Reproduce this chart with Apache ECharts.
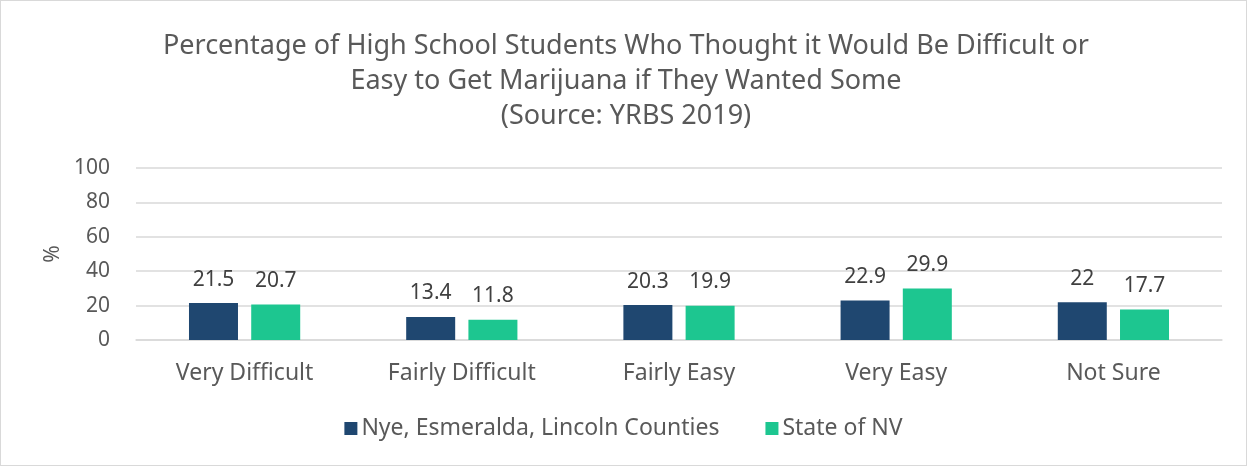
<!DOCTYPE html>
<html><head><meta charset="utf-8">
<script src="https://cdn.jsdelivr.net/npm/echarts@6/dist/echarts.min.js"></script>
<style>html,body{margin:0;padding:0;background:#fff}#c{width:1247px;height:466px;box-sizing:border-box;border:1.5px solid #d9d9d9}</style>
</head><body><div id="c"></div>
<script>
const categories = ["Very Difficult", "Fairly Difficult", "Fairly Easy", "Very Easy", "Not Sure"];
const nyeValues = [21.5, 13.4, 20.3, 22.9, 22];
const nvValues = [20.7, 11.8, 19.9, 29.9, 17.7];
const seriesNames = ["Nye, Esmeralda, Lincoln Counties", "State of NV"];
const titleText = "Percentage of High School Students Who Thought it Would Be Difficult or\nEasy to Get Marijuana if They Wanted Some\n(Source: YRBS 2019)";
const yAxisName = "%";

const font = "'Noto Sans', 'Open Sans', sans-serif";
const chart = echarts.init(document.getElementById('c'), null, {renderer: 'canvas'});
const labelStyle = {show: true, position: 'top', fontSize: 21, color: '#404040', fontFamily: font, distance: 13};
chart.setOption({
  animation: false,
  title: {text: titleText, left: 620, top: 23, textAlign: 'center',
    textStyle: {fontSize: 27, fontWeight: 'normal', color: '#595959', fontFamily: font, lineHeight: 35}},
  grid: {left: 135, right: 24, top: 167, bottom: 125, containLabel: false},
  legend: {bottom: 20, left: 'center', itemWidth: 13, itemHeight: 13, itemGap: 46,
    icon: 'rect', textStyle: {fontSize: 23, color: '#595959', fontFamily: font, padding: [0, 0, 0, -1]}},
  xAxis: {type: 'category', data: categories, axisLine: {lineStyle: {color: '#d9d9d9', width: 1.5}},
    axisTick: {show: false}, axisLabel: {fontSize: 23, color: '#595959', fontFamily: font, margin: 22}},
  yAxis: {type: 'value', min: 0, max: 100, interval: 20, name: yAxisName, nameLocation: 'middle', nameGap: 72,
    nameRotate: 90, nameTextStyle: {fontSize: 21, color: '#595959', fontFamily: font},
    axisLine: {show: false}, axisTick: {show: false},
    splitLine: {lineStyle: {color: '#d9d9d9', width: 1.5}},
    axisLabel: {fontSize: 21, color: '#595959', fontFamily: font, margin: 26}},
  series: [
    {name: seriesNames[0], type: 'bar', data: nyeValues, barWidth: 49, barGap: '27%',
      itemStyle: {color: '#1F4770'}, label: labelStyle},
    {name: seriesNames[1], type: 'bar', data: nvValues, barWidth: 49,
      itemStyle: {color: '#1DC690'}, label: labelStyle}
  ]
});
</script></body></html>
